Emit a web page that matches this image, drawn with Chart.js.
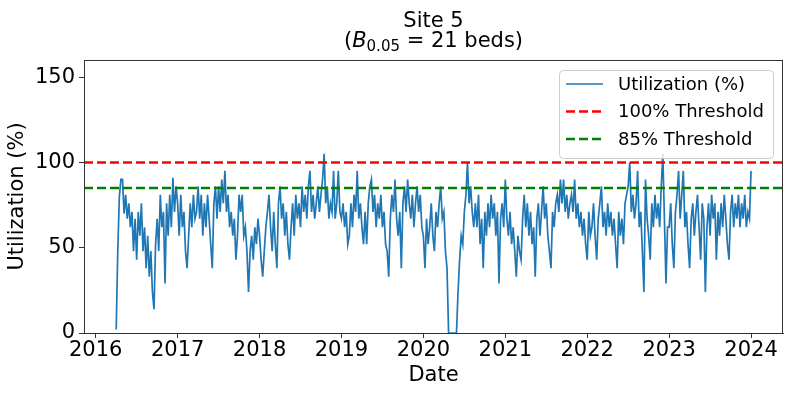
<!DOCTYPE html>
<html>
<head>
<meta charset="utf-8">
<script src="https://cdn.jsdelivr.net/npm/chart.js@4.4.0/dist/chart.umd.min.js"></script>
<style>
    html, body { margin: 0; padding: 0; background: #fff; }
    #wrap { width: 793px; height: 397px; }
</style>
</head>
<body>
<div id="wrap"><canvas id="site-chart" width="793" height="397"></canvas></div>
<script>
// weekly utilization (%), one array per year
// 2016 starts at week 13 (early April)
const firstWeek2016 = 13;
const util2016 = [2, 48, 80, 90, 90, 70, 81, 67, 76, 62, 71, 48, 67, 43, 71, 57, 76, 48, 62, 38,
    57, 33, 48, 24, 14, 52, 67, 48, 81, 62, 71, 29, 76, 57, 81, 62, 91, 71, 86];
const util2017 = [76, 57, 81, 62, 71, 48, 38, 57, 76, 62, 81, 67, 71, 86, 67, 81, 57, 76, 62, 81,
    67, 52, 38, 76, 86, 67, 86, 71, 90, 76, 95, 71, 81, 62, 71, 57, 67, 43, 57, 81,
    71, 81, 57, 62, 48, 24, 48, 57, 43, 62, 52, 67];
const util2018 = [57, 43, 33, 48, 62, 71, 81, 62, 48, 71, 52, 38, 76, 86, 67, 76, 57, 71, 52, 43,
    62, 76, 57, 81, 67, 76, 62, 86, 71, 81, 67, 86, 95, 71, 81, 67, 76, 86, 71, 81,
    90, 105, 76, 86, 67, 76, 71, 95, 67, 76, 95, 71];
const util2019 = [67, 76, 62, 71, 52, 57, 76, 62, 81, 71, 95, 67, 76, 62, 52, 71, 52, 76, 86, 90,
    71, 81, 62, 76, 67, 81, 62, 71, 52, 48, 33, 67, 81, 71, 90, 67, 57, 71, 38, 76,
    86, 71, 90, 76, 67, 81, 62, 76, 86, 71, 81, 62];
const util2020 = [57, 38, 67, 52, 62, 76, 57, 48, 71, 62, 76, 86, 67, 71, 48, 38, 0, 0, 0, 0,
    0, 0, 24, 43, 57, 52, 71, 81, 100, 76, 86, 71, 62, 76, 62, 81, 52, 67, 38, 71,
    57, 76, 62, 81, 67, 76, 57, 71, 29, 67, 76, 62];
const util2021 = [90, 67, 57, 71, 52, 62, 48, 33, 57, 48, 43, 67, 81, 62, 76, 57, 71, 52, 62, 33,
    67, 76, 57, 71, 86, 67, 76, 57, 48, 38, 71, 62, 76, 81, 71, 90, 76, 90, 71, 81,
    67, 76, 81, 71, 90, 67, 76, 62, 71, 57, 67, 52];
const util2022 = [43, 71, 57, 62, 76, 57, 43, 67, 76, 86, 62, 71, 57, 76, 62, 71, 57, 67, 52, 38,
    71, 57, 67, 52, 76, 81, 86, 100, 71, 81, 67, 76, 95, 62, 71, 48, 24, 90, 67, 57,
    43, 76, 62, 81, 67, 76, 62, 86, 105, 67, 29, 62];
const util2023 = [62, 76, 52, 38, 71, 81, 95, 67, 81, 95, 62, 71, 52, 38, 67, 76, 57, 71, 81, 62,
    43, 76, 67, 24, 62, 76, 57, 81, 67, 76, 43, 71, 57, 76, 62, 81, 67, 52, 43, 71,
    81, 62, 76, 67, 81, 62, 76, 67, 81, 62, 71, 67, 95];

const yearTicks = [2016, 2017, 2018, 2019, 2020, 2021, 2022, 2023, 2024];
const utilTicks = [0, 50, 100, 150];
const thresholds = [100, 85];

const xMin = 2015.857;
const xMax = 2024.39;
const fontFamily = '"DejaVu Sans", sans-serif';

let yearly = [
    [2016, util2016, firstWeek2016],
    [2017, util2017, 0],
    [2018, util2018, 0],
    [2019, util2019, 0],
    [2020, util2020, 0],
    [2021, util2021, 0],
    [2022, util2022, 0],
    [2023, util2023, 0]
];

let utilPoints = [];
for (let [year, values, start] of yearly) {
    values.forEach((v, i) => utilPoints.push({x: year + (start + i) / 52, y: v}));
}

function hLine(value) {
    return [{x: xMin, y: value}, {x: xMax, y: value}];
}

// spines on all four sides, like matplotlib
const framePlugin = {
    id: 'frame',
    afterDatasetsDraw(chart) {
        const {ctx, chartArea: a} = chart;
        ctx.save();
        ctx.strokeStyle = '#333';
        ctx.lineWidth = 1;
        ctx.strokeRect(a.left + 0.5, a.top + 0.5, a.right - a.left - 1, a.bottom - a.top);
        ctx.restore();
    }
};

// two-line title with the subscript B_0.05
const titlePlugin = {
    id: 'siteTitle',
    afterDraw(chart) {
        const {ctx, chartArea: a} = chart;
        const cx = (a.left + a.right) / 2;
        ctx.save();
        ctx.fillStyle = '#000';
        ctx.textBaseline = 'alphabetic';
        ctx.textAlign = 'center';
        ctx.font = '21px ' + fontFamily;
        ctx.fillText('Site 5', cx, 27);

        const parts = [
            {t: '(', f: '21px ' + fontFamily, dy: 0},
            {t: 'B', f: 'italic 21px ' + fontFamily, dy: 0},
            {t: '0.05', f: '15px ' + fontFamily, dy: 4},
            {t: ' = 21 beds)', f: '21px ' + fontFamily, dy: 0}
        ];
        let total = 0;
        for (let p of parts) {
            ctx.font = p.f;
            p.w = ctx.measureText(p.t).width;
            total += p.w;
        }
        let x = cx - total / 2;
        ctx.textAlign = 'left';
        for (let p of parts) {
            ctx.font = p.f;
            ctx.fillText(p.t, x, 47 + p.dy);
            x += p.w;
        }
        ctx.restore();
    }
};

const legendPlugin = {
    id: 'boxLegend',
    afterDraw(chart) {
        const ctx = chart.ctx;
        const box = {x: 559, y: 70, w: 214, h: 88};
        const items = [
            {label: 'Utilization (%)', color: '#1f77b4', width: 1.5, dash: []},
            {label: '100% Threshold', color: '#ff0000', width: 2.5, dash: [9, 4]},
            {label: '85% Threshold', color: '#008000', width: 2.5, dash: [9, 4]}
        ];
        ctx.save();
        ctx.fillStyle = 'rgba(255,255,255,0.8)';
        ctx.strokeStyle = '#cccccc';
        ctx.lineWidth = 1;
        ctx.beginPath();
        ctx.roundRect(box.x + 0.5, box.y + 0.5, box.w, box.h, 4);
        ctx.fill();
        ctx.stroke();

        ctx.font = '18px ' + fontFamily;
        ctx.textBaseline = 'middle';
        ctx.fillStyle = '#000';
        items.forEach((item, i) => {
            const y = 84 + i * 27.5;
            ctx.strokeStyle = item.color;
            ctx.lineWidth = item.width;
            ctx.setLineDash(item.dash);
            ctx.beginPath();
            ctx.moveTo(566, y);
            ctx.lineTo(603, y);
            ctx.stroke();
            ctx.setLineDash([]);
            ctx.fillText(item.label, 618, y + 1);
        });
        ctx.restore();
    }
};

const config = {
    type: 'line',
    data: {
        datasets: [
            {
                label: 'Utilization (%)',
                data: utilPoints,
                borderColor: '#1f77b4',
                borderWidth: 1.7,
                pointRadius: 0,
                order: 3
            },
            {
                label: '100% Threshold',
                data: hLine(thresholds[0]),
                borderColor: '#ff0000',
                borderWidth: 2.5,
                borderDash: [9, 4],
                pointRadius: 0,
                order: 1
            },
            {
                label: '85% Threshold',
                data: hLine(thresholds[1]),
                borderColor: '#008000',
                borderWidth: 2.5,
                borderDash: [9, 4],
                pointRadius: 0,
                order: 2
            }
        ]
    },
    options: {
        responsive: false,
        animation: false,
        layout: {padding: {top: 60, right: 10, left: 0, bottom: 0}},
        elements: {line: {tension: 0}},
        plugins: {
            legend: {display: false},
            title: {display: false},
            tooltip: {enabled: false}
        },
        scales: {
            x: {
                type: 'linear',
                min: xMin,
                max: xMax,
                afterBuildTicks: (scale) => {
                    scale.ticks = yearTicks.map(v => ({value: v}));
                },
                afterFit: (scale) => {
                    scale.height = 64;
                },
                ticks: {
                    color: '#000',
                    font: {family: fontFamily, size: 21},
                    padding: 0,
                    maxRotation: 0,
                    autoSkip: false,
                    callback: (v) => String(v)
                },
                grid: {display: true, drawOnChartArea: false, drawTicks: true, tickLength: 5, color: '#333'},
                border: {display: true, color: '#333'},
                title: {
                    display: true,
                    text: 'Date',
                    color: '#000',
                    font: {family: fontFamily, size: 21},
                    padding: {top: 0, bottom: 9}
                }
            },
            y: {
                type: 'linear',
                min: 0,
                max: 160,
                afterBuildTicks: (scale) => {
                    scale.ticks = utilTicks.map(v => ({value: v}));
                },
                afterFit: (scale) => {
                    scale.width = 84;
                },
                ticks: {
                    color: '#000',
                    font: {family: fontFamily, size: 21},
                    padding: 4
                },
                grid: {display: true, drawOnChartArea: false, drawTicks: true, tickLength: 5, color: '#333'},
                border: {display: true, color: '#333'},
                title: {
                    display: true,
                    text: 'Utilization (%)',
                    color: '#000',
                    font: {family: fontFamily, size: 21},
                    padding: {top: 5, bottom: 0}
                }
            }
        }
    },
    plugins: [framePlugin, titlePlugin, legendPlugin]
};

let siteChart = new Chart(document.getElementById('site-chart'), config);
</script>
</body>
</html>
